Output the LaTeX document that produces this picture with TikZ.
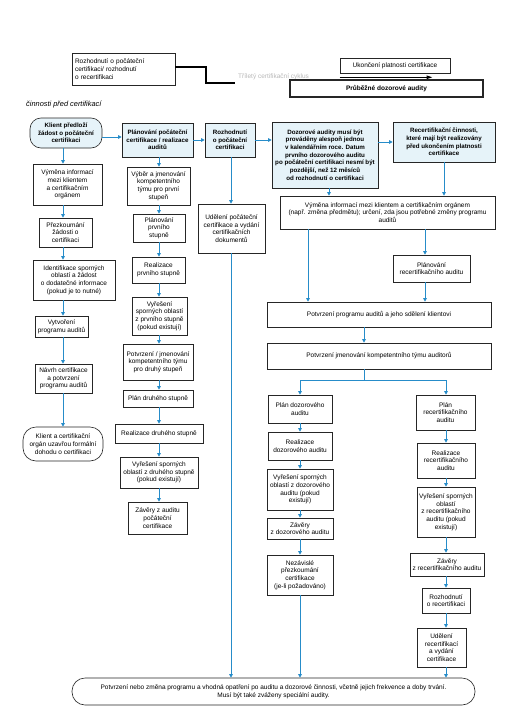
\documentclass[tikz,border=0pt]{standalone}
\usepackage{fontspec}
\setmainfont{Liberation Sans}
\usetikzlibrary{arrows.meta}
\definecolor{flowblue}{RGB}{38,140,201}
\definecolor{boxblue}{RGB}{230,243,249}
\definecolor{cyclegray}{RGB}{185,185,185}

\begin{document}
\begin{tikzpicture}[x=1pt, y=-1pt]
    \tikzset{box/.style={draw=black!85, line width=0.6pt, align=center, inner sep=1pt, font=\fontsize{6.5}{7.7}\selectfont},
      head/.style={box, fill=boxblue, font=\fontsize{6.2}{7.7}\selectfont\bfseries},
      sz/.style 2 args={minimum width=#1, minimum height=#2},
      flow/.style={draw=flowblue, line width=0.9pt, -{Triangle[length=3.6pt, width=3.6pt]}},
      flowline/.style={draw=flowblue, line width=0.9pt},
      cycleline/.style={line width=1.4pt}}
    \fill[white] (0,0) rectangle (506,715);
    \useasboundingbox (0,0) rectangle (506,715);
    % top row
    \node[box, sz={103}{32}, align=left, text width=97pt] (topbox) at (123.5,69) {Rozhodnutí o počáteční\\certifikaci/ rozhodnutí\\o recertifikaci};
    \node[anchor=west, inner sep=3pt, text=cyclegray, font=\fontsize{6.5}{7}\selectfont] (cyc) at (235,77) {Tříletý certifikační cyklus};
    \node[box, sz={110}{15}] (ukonc) at (395,65.5) {Ukončení platnosti certifikace};
    \node[box, line width=1.2pt, sz={193}{17}, font=\fontsize{6.5}{7}\selectfont\bfseries] (prub) at (386.5,88.5) {Průběžné dozorové audity};
    \node[anchor=west, inner sep=0pt, font=\fontsize{7.4}{8}\selectfont\itshape] (pred) at (26,105) {činnosti před certifikací};
    \coordinate (yT) at (0,67);
    \coordinate (kink) at (206,83);
    \draw[cycleline] (topbox.east |- yT) -| (kink) -- (kink -| cyc.west);
    \draw[cycleline, -{Triangle[length=6pt, width=3.2pt]}] ([yshift=-4pt]ukonc.south west) -- ++(93,0);
    % blue heads
    \node[head, sz={72}{30}, rounded corners=11pt] (klient) at (66,133) {Klient předloží\\žádost o počáteční\\certifikaci};
    \node[head, sz={71}{34}] (plan) at (157.5,140) {Plánování počáteční\\certifikace / realizace\\auditů};
    \node[head, sz={50}{34}] (rozh) at (230,140) {Rozhodnutí\\o počáteční\\certifikaci};
    \node[head, sz={106}{66}] (dozor) at (325,155) {Dozorové audity musí být\\prováděny alespoň jednou\\v kalendářním roce. Datum\\prvního dozorového auditu\\po počáteční certifikaci nesmí být\\pozdější, než 12 měsíců\\od rozhodnutí o certifikaci};
    \node[head, sz={102}{40}] (recert) at (444,142) {Recertifikační činnosti,\\které mají být realizovány\\před ukončením platnosti\\certifikace};
    % before certification
    \node[box, sz={69}{41}] (vymena1) at (67.5,184.5) {Výměna informací\\mezi klientem\\a certifikačním\\orgánem};
    \node[box, sz={53}{29}] (prezk) at (65.5,232.5) {Přezkoumání\\žádosti o\\certifikaci};
    \node[box, sz={82}{40}] (ident) at (74,280) {Identifikace sporných\\oblastí a žádost\\o dodatečné informace\\(pokud je to nutné)};
    \node[box, sz={53}{21}] (vytvor) at (61.5,326.5) {Vytvoření\\programu auditů};
    \node[box, sz={57}{29}] (navrh) at (63.5,378.5) {Návrh certifikace\\a potvrzení\\programu auditů};
    \node[box, sz={80}{34}, rounded corners=13pt] (dohoda) at (63,444) {Klient a certifikační\\orgán uzavřou formální\\dohodu o certifikaci};
    % initial audit
    \node[box, sz={63}{38}] (vyber) at (158.5,186) {Výběr a jmenování\\kompetentního\\týmu pro první\\stupeň};
    \node[box, sz={52}{28}] (plan1) at (159,228) {Plánování\\prvního\\stupně};
    \node[box, sz={53}{26}] (real1) at (158.5,270) {Realizace\\prvního stupně};
    \node[box, sz={55}{38}] (vyres1) at (159.5,316) {Vyřešení\\sporných oblastí\\z prvního stupně\\(pokud existují)};
    \node[box, sz={70}{36}] (potvrz2) at (158,362) {Potvrzení / jmenování\\kompetentního týmu\\pro druhý stupeň};
    \node[box, sz={70}{17}] (plan2) at (158,398.5) {Plán druhého stupně};
    \node[box, sz={88}{19}] (real2) at (159,433.5) {Realizace druhého stupně};
    \node[box, sz={78}{31}] (vyres2) at (159,472.5) {Vyřešení sporných\\oblastí z druhého stupně\\(pokud existují)};
    \node[box, sz={59}{32}] (zavery1) at (157.5,518) {Závěry z auditu\\počáteční\\certifikace};
    \node[box, sz={67}{49}] (udel) at (231.5,228.5) {Udělení počáteční\\certifikace a vydání\\certifikačních\\dokumentů};
    % surveillance and recertification
    \node[box, sz={215}{33}] (vymena2) at (387.5,212.5) {Výměna informací mezi klientem a certifikačním orgánem\\(např. změna předmětu); určení, zda jsou potřebné změny programu\\auditů};
    \node[box, sz={77}{27}] (planrec) at (431.5,268.5) {Plánování\\recertifikačního auditu};
    \node[box, sz={224}{25}] (potvrzprog) at (379,314.5) {Potvrzení programu auditů a jeho sdělení klientovi};
    \node[box, sz={224}{26}] (potvrztym) at (379,356) {Potvrzení jmenování kompetentního týmu auditorů};
    \node[box, sz={64}{28}] (pland) at (300,409) {Plán dozorového\\auditu};
    \node[box, sz={64}{28}] (reald) at (300,446) {Realizace\\dozorového auditu};
    \node[box, sz={66}{41}] (vyresd) at (300,489.5) {Vyřešení sporných\\oblastí z dozorového\\auditu (pokud\\existují)};
    \node[box, sz={66}{21}] (zaverd) at (300,528.5) {Závěry\\z dozorového auditu};
    \node[box, sz={66}{40}] (nezav) at (300,575) {Nezávislé\\přezkoumání\\certifikace\\(je-li požadováno)};
    \node[box, sz={59}{35}] (planr) at (445.5,412.5) {Plán\\recertifikačního\\auditu};
    \node[box, sz={58}{35}] (realr) at (446,460.5) {Realizace\\recertifikačního\\auditu};
    \node[box, sz={58}{50}] (vyresr) at (446,512) {Vyřešení sporných\\oblastí\\z recertifikačního\\auditu (pokud\\existují)};
    \node[box, sz={74}{23}] (zaverr) at (447,564.5) {Závěry\\z recertifikačního auditu};
    \node[box, sz={48}{25}] (rozhr) at (446,600.5) {Rozhodnutí\\o recertifikaci};
    \node[box, sz={49}{39}] (udelr) at (441.5,647.5) {Udělení\\recertifikací\\a vydání\\certifikace};
    \node[box, sz={403}{27}, rounded corners=13pt] (final) at (273.5,691.5) {Potvrzení nebo změna programu a vhodná opatření po auditu a dozorové činnosti, včetně jejich frekvence a doby trvání.\\Musí být také zváženy speciální audity.};
    % connectors
    \coordinate (xA) at (63,0);
    \coordinate (xB) at (159,0);
    \coordinate (xC) at (231,0);
    \coordinate (xD) at (308,0);
    \coordinate (xE) at (425,0);
    \coordinate (xF) at (364,0);
    \coordinate (xG) at (300,0);
    \coordinate (xH) at (446,0);
    \coordinate (xI) at (329,0);
    \coordinate (yA) at (0,137);
    \coordinate (ySplit) at (0,380);
    \foreach \a/\b in {klient/vymena1, vymena1/prezk, prezk/ident, ident/vytvor, vytvor/navrh, navrh/dohoda}
      \draw[flow] (\a.south -| xA) -- (\b.north -| xA);
    \foreach \a/\b in {plan/vyber, vyber/plan1, plan1/real1, real1/vyres1, vyres1/potvrz2, potvrz2/plan2, plan2/real2, real2/vyres2, vyres2/zavery1}
      \draw[flow] (\a.south -| xB) -- (\b.north -| xB);
    \foreach \a/\b in {rozh/udel, udel/final}
      \draw[flow] (\a.south -| xC) -- (\b.north -| xC);
    \foreach \a/\b in {pland/reald, reald/vyresd, vyresd/zaverd, zaverd/nezav, nezav/final}
      \draw[flow] (\a.south -| xG) -- (\b.north -| xG);
    \foreach \a/\b in {planr/realr, realr/vyresr, vyresr/zaverr, zaverr/rozhr, rozhr/udelr, udelr/final}
      \draw[flow] (\a.south -| xH) -- (\b.north -| xH);
    \draw[flow] (klient.east |- yA) -- (plan.west |- yA);
    \draw[flow] (plan.east) -- (rozh.west);
    \draw[flow] (rozh.east) -- (rozh.east -| dozor.west);
    \draw[flow] (recert.west -| dozor.east) -- (recert.west);
    \draw[flow] (dozor.south -| xI) -- (vymena2.north -| xI);
    \draw[flow] (recert.south) -- (recert.south |- vymena2.north);
    \draw[flow] (vymena2.south -| xD) -- (potvrzprog.north -| xD);
    \draw[flow] (vymena2.south -| xE) -- (planrec.north -| xE);
    \draw[flow] (planrec.south -| xE) -- (potvrzprog.north -| xE);
    \draw[flow] (potvrzprog.south -| xF) -- (potvrztym.north -| xF);
    \draw[flowline] (potvrztym.south -| xF) -- (xF |- ySplit);
    \draw[flowline] (xG |- ySplit) -- (xH |- ySplit);
    \draw[flow] (xG |- ySplit) -- (pland.north -| xG);
    \draw[flow] (xH |- ySplit) -- (planr.north -| xH);
\end{tikzpicture}
\end{document}
